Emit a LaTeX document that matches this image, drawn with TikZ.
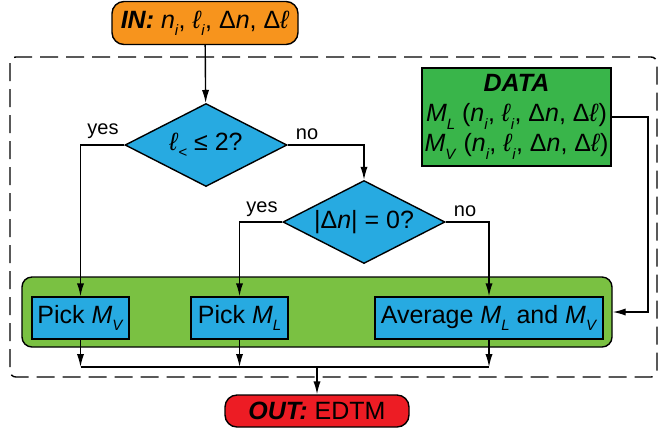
\documentclass[tikz,border=0pt]{standalone}
\usepackage{fontspec}
\setmainfont{Liberation Sans}
\usetikzlibrary{shapes.geometric,arrows.meta}
\definecolor{inorange}{RGB}{247,148,29}
\definecolor{qblue}{RGB}{39,170,225}
\definecolor{panelgreen}{RGB}{122,193,66}
\definecolor{datagreen}{RGB}{57,181,74}
\definecolor{outred}{RGB}{237,28,36}
\newcommand{\isub}[1]{\raisebox{-0.55ex}{\fontsize{7.5}{8}\selectfont\textit{#1}}}
\tikzset{
  box/.style={draw, line width=0.7pt, inner sep=0pt, align=center,
    font=\fontsize{12.5}{15}\selectfont},
  term/.style={box, rounded corners=6pt},
  decision/.style={box, shape=diamond, aspect=1.95, fill=qblue,
    minimum width=81pt, minimum height=41.5pt},
  pick/.style={box, fill=qblue, minimum height=21pt},
  flow/.style={line width=0.7pt, -{Latex[length=6.5pt,width=3.6pt]}},
  answer/.style={font=\fontsize{10}{12}\selectfont, inner sep=1pt}
}
\begin{document}
\begin{tikzpicture}[x=0.5pt,y=-0.5pt]
  \useasboundingbox (0,0) rectangle (667,441);

  % dashed frame and green panel
  \draw[line width=0.7pt, dash pattern=on 9pt off 4pt, rounded corners=3pt]
    (10,57) rectangle (657,377);
  \node[box, rounded corners=5pt, fill=panelgreen,
    minimum width=295pt, minimum height=35pt] (panel) at (317,312) {};

  % terminals
  \node[term, fill=inorange, minimum width=93pt, minimum height=21.5pt] (in) at (205,23)
    {\textbf{\textit{IN:}} \textit{n}\isub{i}, \textit{ℓ}\isub{i}, Δ\textit{n}, Δ\textit{ℓ}};
  \node[term, fill=outred, minimum width=92pt, minimum height=16pt] (out) at (317,411)
    {\textbf{\textit{OUT:}} EDTM};

  % decisions
  \node[decision] (dec1) at (206,145) {\textit{ℓ}\isub{<} ≤ 2?};
  \node[decision] (dec2) at (364,222) {|Δ\textit{n}| = 0?};

  % data box
  \node[box, fill=datagreen, minimum width=94.5pt, minimum height=49pt] (data) at (516.5,117)
    {\textbf{\textit{DATA}}\\
     \textit{M}\isub{L} (\textit{n}\isub{i}, \textit{ℓ}\isub{i}, Δ\textit{n}, Δ\textit{ℓ})\\
     \textit{M}\isub{V} (\textit{n}\isub{i}, \textit{ℓ}\isub{i}, Δ\textit{n}, Δ\textit{ℓ})};

  % actions
  \node[pick, minimum width=48.5pt] (pickv) at (80.5,318) {Pick \textit{M}\isub{V}};
  \node[pick, minimum width=48.5pt] (pickl) at (239.5,318) {Pick \textit{M}\isub{L}};
  \node[pick, minimum width=114pt] (avg) at (489,318)
    {Average \textit{M}\isub{L} and \textit{M}\isub{V}};

  % answers
  \node[answer] (yes1) at (103,131) {yes};
  \node[answer] (no1) at (307,134) {no};
  \node[answer] (yes2) at (262,209) {yes};
  \node[answer] (no2) at (465,211) {no};

  % connectors
  \coordinate (dturn) at (648,117);
  \coordinate (join) at (317,367);
  \draw[flow] (in) -- (dec1);
  \draw[flow] (dec1.west) -| (pickv.north);
  \draw[flow] (dec1.east) -| (dec2.north);
  \draw[flow] (dec2.west) -| (pickl.north);
  \draw[flow] (dec2.east) -| (avg.north);
  \draw[flow] (data.east) -- (dturn) |- (panel.east);
  \draw[flow] (pickv.south) -- (pickv.south |- join);
  \draw[flow] (pickl.south) -- (pickl.south |- join);
  \draw[flow] (avg.south) -- (avg.south |- join);
  \draw[line width=0.7pt] (pickv.south |- join) -- (avg.south |- join);
  \draw[flow] (join) -- (out);
\end{tikzpicture}
\end{document}
